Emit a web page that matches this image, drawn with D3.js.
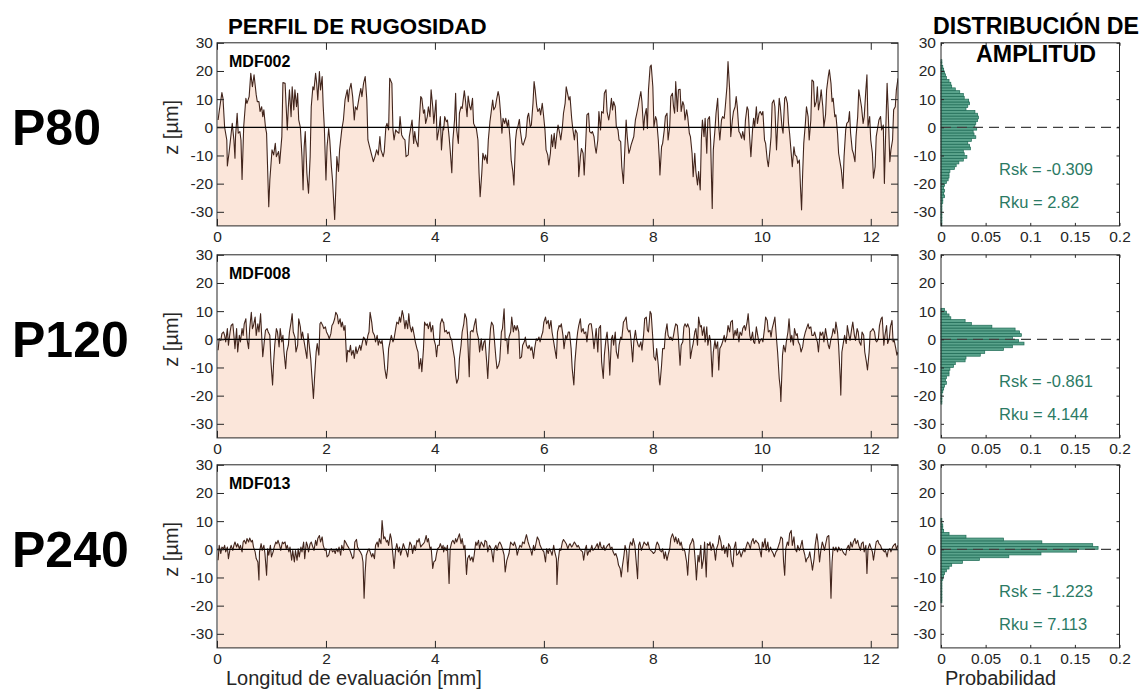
<!DOCTYPE html>
<html lang="es">
<head>
<meta charset="UTF-8">
<title>Perfil de rugosidad</title>
<script src="https://d3js.org/d3.v7.min.js"></script>
<style>
  body { margin: 0; background: #fff; }
  svg { font-family: "Liberation Sans", Arial, sans-serif; }
  .tick text { fill: #262626; font-size: 15.5px; }
  .tick line { stroke: #262626; }
</style>
</head>
<body>
<svg id="chart" width="1142" height="690"></svg>
<script>
    // labels for the three sandpaper grits
    const gritLabels = ["P80", "P120", "P240"];
    const sampleNames = ["MDF002", "MDF008", "MDF013"];
    const rskValues = ["-0.309", "-0.861", "-1.223"];
    const rkuValues = ["2.82", "4.144", "7.113"];

    const xTicks = [0, 2, 4, 6, 8, 10, 12];
    const zTicks = [-30, -20, -10, 0, 10, 20, 30];
    const probTicks = [0, 0.05, 0.1, 0.15, 0.2];

    // profiles: [x in mm, z in um]
    const profileP80 = [[0.02,2.6],[0.04,5.6],[0.09,12.3],[0.11,10.3],[0.14,0],[0.18,-4.5],[0.19,-13.7],[0.22,-9.2],[0.26,-2.1],[0.28,1.4],[0.31,-4.5],[0.33,-11],[0.34,-3.3],[0.37,5],[0.39,-2.1],[0.42,-1.5],[0.44,-4.5],[0.46,-18.5],[0.49,0.2],[0.53,10.3],[0.55,8.5],[0.59,10.9],[0.62,19.2],[0.65,14.4],[0.68,18.6],[0.72,11.5],[0.74,9.1],[0.77,9.1],[0.79,5.6],[0.82,7.3],[0.84,3.8],[0.86,6.2],[0.89,0],[0.91,-2.1],[0.95,-28.2],[0.97,-18.7],[1.01,-8],[1.04,-9.8],[1.07,-5.7],[1.09,-10.4],[1.13,-8.6],[1.15,-12.8],[1.19,-3.3],[1.21,15.9],[1.25,15.6],[1.27,7.3],[1.29,-0.9],[1.31,7.3],[1.33,13.3],[1.36,3.8],[1.38,14.4],[1.41,6.2],[1.43,13.3],[1.46,7.3],[1.48,12.1],[1.5,2.6],[1.53,0],[1.56,-10.4],[1.58,-22.2],[1.6,-6.9],[1.62,-1.5],[1.65,-16.3],[1.68,-23.4],[1.71,-10.4],[1.73,7.3],[1.76,14.4],[1.78,13.3],[1.81,19.2],[1.83,15.6],[1.85,9.7],[1.88,19.8],[1.9,13.3],[1.93,18],[1.95,7.3],[1.97,0],[2,-18.7],[2.02,-6.9],[2.05,-0.4],[2.07,-4.5],[2.1,-14],[2.12,-18.7],[2.16,-32.7],[2.18,-22.2],[2.2,-10.4],[2.23,-15.7],[2.25,-8],[2.29,-0.9],[2.32,2.6],[2.35,9.7],[2.39,13.3],[2.41,9.1],[2.43,13.3],[2.46,15.6],[2.49,10.9],[2.52,2.6],[2.54,7.3],[2.57,6.2],[2.59,8.5],[2.61,10.9],[2.64,13.8],[2.66,10.9],[2.69,15.6],[2.72,18],[2.75,9.7],[2.77,-4.5],[2.8,-6.9],[2.83,-9.2],[2.87,-12.2],[2.9,-10.4],[2.93,-8],[2.96,-9.8],[2.99,-3.3],[3.01,-8],[3.05,-10.4],[3.07,-8.6],[3.1,0.2],[3.12,1.4],[3.15,-0.9],[3.17,17.4],[3.21,15.6],[3.23,-0.9],[3.25,-4.5],[3.28,-0.9],[3.3,-1.5],[3.34,-2.1],[3.36,3.8],[3.39,-2.7],[3.42,-3.9],[3.45,-4.5],[3.47,-10.4],[3.51,-9.8],[3.53,-3.3],[3.56,0.2],[3.58,2.6],[3.61,-5.7],[3.63,-1.5],[3.65,-4.5],[3.69,-6.9],[3.71,1.4],[3.74,10.9],[3.76,10.3],[3.79,5],[3.81,6.2],[3.83,1.4],[3.86,3.8],[3.88,7.3],[3.91,3.8],[3.93,13.3],[3.96,7.3],[3.98,1.4],[4.02,9.7],[4.04,-4.5],[4.08,0.2],[4.1,3.8],[4.12,-8],[4.15,0.2],
        [4.16,-0.9],[4.18,3.8],[4.21,2],[4.23,2.6],[4.26,-3.3],[4.28,-8],[4.31,-16.1],[4.33,-4.5],[4.36,2.6],[4.38,12.1],[4.4,-0.9],[4.43,-5.7],[4.45,5],[4.48,7.3],[4.5,6.7],[4.54,13],[4.56,9.7],[4.59,3.8],[4.61,11.1],[4.64,7.3],[4.66,6.2],[4.69,10.3],[4.71,1.4],[4.74,0],[4.76,-0.4],[4.79,-4.5],[4.81,-16.3],[4.83,-24.6],[4.86,-16.3],[4.88,-9.2],[4.91,-11.6],[4.93,-9.8],[4.96,-12.8],[4.98,-4.5],[5.01,2],[5.03,5],[5.06,9.7],[5.08,6.2],[5.11,7.3],[5.13,9.7],[5.16,12.7],[5.18,10.9],[5.2,6.2],[5.23,-2.1],[5.25,3.2],[5.28,1.4],[5.3,3.2],[5.33,0.2],[5.35,2.6],[5.38,-4.5],[5.4,-11.6],[5.43,-15.7],[5.45,-20.5],[5.48,-4.5],[5.5,-0.9],[5.52,0],[5.55,2.8],[5.57,-1.5],[5.6,-5.7],[5.62,-6.3],[5.65,-4.5],[5.67,-3.3],[5.7,3.8],[5.72,5],[5.75,0.2],[5.77,0.8],[5.8,8.5],[5.82,16.2],[5.84,13.3],[5.87,7.3],[5.89,5.6],[5.92,6.7],[5.94,4.4],[5.97,8.5],[5.99,5],[6.02,-0.9],[6.04,-8],[6.07,-9.8],[6.09,-13.4],[6.12,-9.2],[6.14,-2.7],[6.16,-6.9],[6.19,-2.1],[6.21,-7.5],[6.24,-2.1],[6.26,0.8],[6.29,-2.1],[6.31,-4.5],[6.34,0.2],[6.36,5],[6.39,8.5],[6.41,14.4],[6.44,11.5],[6.46,9.7],[6.48,10.9],[6.51,3.2],[6.53,-0.4],[6.56,-4.5],[6.58,-0.9],[6.61,-2.1],[6.63,-10.4],[6.64,-17.5],[6.67,-10.4],[6.69,-7.5],[6.72,-9.2],[6.74,-16.9],[6.77,-4.5],[6.79,4.4],[6.82,5],[6.84,-1.5],[6.87,-2.1],[6.89,-1.5],[6.92,-3.3],[6.94,-6.9],[6.96,-9.2],[6.99,-4.5],[7.01,5.6],[7.04,-0.9],[7.06,5.6],[7.09,5],[7.11,12.1],[7.14,13.3],[7.16,5.6],[7.19,2.6],[7.21,5],[7.24,10.3],[7.26,6.2],[7.28,9.1],[7.31,7.3],[7.33,0.2],[7.36,-0.9],[7.38,-4.5],[7.41,-5.1],[7.43,-14],[7.46,-19.9],[7.48,-10.4],[7.51,2.6],[7.53,-3.3],[7.56,-9.2],[7.58,-8],[7.6,-6.3],[7.63,-4.5],[7.65,-3.3],[7.68,2.6],[7.7,4.4],[7.73,7.3],[7.75,9.7],[7.78,12.7],[7.8,9.1],[7.83,-0.9],[7.85,3.8],[7.88,6.7],[7.9,-0.4],[7.92,13.3],[7.95,21.5],[7.97,22.1],[8,14.4],[8.02,0.2],[8.05,3.8],[8.07,2.6],[8.1,-4.5],[8.12,-11.6],[8.13,-16.9],[8.16,-6.9],[8.18,-5.7],[8.21,-0.9],[8.23,3.8],[8.26,5],[8.28,-4.5],[8.31,0.2],[8.33,10.9],[8.36,12.1],[8.38,7.3],
        [8.4,5],[8.42,16.2],[8.45,5.6],[8.47,13.3],[8.5,13.5],[8.52,5.6],[8.55,9.1],[8.57,7.9],[8.59,2.6],[8.62,6.2],[8.64,3.8],[8.67,-2.1],[8.69,-3.3],[8.72,-9.2],[8.74,-17.5],[8.77,-9.2],[8.79,-15.7],[8.82,-20.5],[8.84,-15.7],[8.87,-22.2],[8.89,-4.5],[8.91,2.6],[8.94,-3.3],[8.96,3.2],[8.99,-9.2],[9.01,2.8],[9.04,3.8],[9.06,-4.5],[9.09,-28.8],[9.11,-8],[9.14,-0.9],[9.16,5],[9.19,10.3],[9.21,0.2],[9.23,-4.5],[9.26,2.6],[9.28,3.8],[9.31,3.2],[9.33,7.3],[9.36,14.4],[9.38,23.3],[9.41,13.3],[9.43,-3.3],[9.46,2.6],[9.48,5.6],[9.51,7.3],[9.53,10.9],[9.55,7.3],[9.58,-1.5],[9.6,-2.1],[9.63,-3.9],[9.65,-1.5],[9.68,-4.5],[9.7,2.6],[9.73,7.3],[9.75,6.2],[9.78,-4.5],[9.8,-10.4],[9.83,-0.9],[9.85,3.2],[9.87,0.2],[9.9,7.3],[9.92,1.4],[9.95,5],[9.97,5.6],[10,4.4],[10.02,5.6],[10.05,-4.5],[10.07,-5.7],[10.1,-11.6],[10.12,-14],[10.15,-8],[10.17,-3.3],[10.19,8.5],[10.22,9.7],[10.24,7.3],[10.27,-8],[10.29,0.2],[10.32,10.3],[10.34,7.3],[10.37,0.2],[10.39,-2.1],[10.42,10.3],[10.44,10.9],[10.47,8.5],[10.49,1.4],[10.51,-2.1],[10.54,-9.2],[10.56,-14],[10.59,-6.9],[10.61,-9.8],[10.64,-10.4],[10.66,-12.8],[10.69,-11.6],[10.71,-21.1],[10.73,-29.3],[10.75,-16.3],[10.77,-5.7],[10.8,1.4],[10.82,7.3],[10.85,3.8],[10.87,-4.5],[10.9,2.6],[10.92,16.8],[10.95,16.2],[10.97,7.3],[11,9.1],[11.02,14.4],[11.04,6.2],[11.07,9.7],[11.09,13.3],[11.12,7.3],[11.14,0.2],[11.17,4.4],[11.19,13.3],[11.22,18],[11.24,20.4],[11.27,15.6],[11.29,9.1],[11.31,10.3],[11.34,3.8],[11.36,4.4],[11.39,-2.1],[11.41,-9.2],[11.44,-12.8],[11.46,-15.1],[11.49,-21.7],[11.51,-10.4],[11.54,-0.9],[11.56,1.4],[11.59,2],[11.61,5.6],[11.63,-2.1],[11.66,-8],[11.68,-9.2],[11.71,-12.2],[11.73,-3.3],[11.76,3.8],[11.78,13.3],[11.81,9.7],[11.83,7.3],[11.86,1.4],[11.88,3.8],[11.91,13.3],[11.93,18.6],[11.95,0.2],[11.98,3.8],[12,-4.5],[12.03,-9.2],[12.05,-18.1],[12.08,-14],[12.1,-3.3],[12.13,0.2],[12.15,2.6],[12.18,3.8],[12.2,-0.9],[12.23,0.8],[12.25,-19.9],[12.27,-4.5],[12.3,15.6],[12.32,6.2],[12.35,-12.2],[12.37,-8],[12.4,-4.5],[12.42,6.2],[12.45,7.3],[12.47,13.3],[12.5,17.4]];

    const profileP120 = [[0.02,-3.9],[0.04,0.2],[0.07,-0.4],[0.09,2],[0.12,2.6],[0.14,1.4],[0.16,-0.9],[0.19,3.8],[0.21,-2.1],[0.24,2.6],[0.26,4.9],[0.29,5.5],[0.31,1.4],[0.33,-3.3],[0.36,3.8],[0.38,-4.5],[0.41,1.4],[0.43,-0.9],[0.46,3.8],[0.48,1.4],[0.5,5.5],[0.53,7.3],[0.55,0.2],[0.58,-3.3],[0.6,3.8],[0.63,9.6],[0.65,3.8],[0.67,4.9],[0.7,7.9],[0.72,1.4],[0.75,5.5],[0.77,2.6],[0.8,9.1],[0.82,1.4],[0.84,-6.2],[0.87,-0.4],[0.89,3.2],[0.92,3.8],[0.94,2.6],[0.97,1.4],[0.99,-8],[1.02,-16.2],[1.04,-8],[1.06,-2.1],[1.09,3.8],[1.11,2.6],[1.14,-2.7],[1.16,3.8],[1.19,-0.9],[1.21,1.4],[1.23,-4.5],[1.26,-10.4],[1.28,-4.5],[1.31,-2.1],[1.33,2.6],[1.36,6.1],[1.38,9.1],[1.4,2.6],[1.43,0.8],[1.45,-4.5],[1.48,-2.1],[1.5,7.3],[1.53,4.4],[1.55,0.2],[1.57,2.6],[1.6,-0.9],[1.62,-3.3],[1.65,-6.8],[1.67,2],[1.7,-3.3],[1.72,-6.8],[1.74,-12.7],[1.77,-21],[1.79,-13.9],[1.82,-4.5],[1.84,-1.5],[1.87,-5.6],[1.89,5.5],[1.91,6.1],[1.94,4.9],[1.96,3.8],[1.99,4.4],[2.01,2.6],[2.04,1.4],[2.06,0.2],[2.09,2],[2.11,4.9],[2.13,5.5],[2.16,7.3],[2.18,9.6],[2.21,8.5],[2.23,5.5],[2.26,7.3],[2.28,4.4],[2.3,6.1],[2.33,3.2],[2.35,4.9],[2.38,-8],[2.4,-3.9],[2.43,-4.5],[2.45,-2.1],[2.47,-5.6],[2.5,-3.9],[2.52,-6.8],[2.55,-2.7],[2.57,-5.1],[2.6,-3.3],[2.62,-2.1],[2.64,-3.9],[2.67,-0.9],[2.69,0.8],[2.72,0],[2.74,-2.1],[2.77,1.4],[2.79,2.6],[2.81,9.6],[2.84,6.1],[2.86,2.6],[2.89,1.4],[2.91,-0.9],[2.94,1.4],[2.96,-2.1],[2.98,-0.4],[3.01,-1.5],[3.03,-0.4],[3.06,-5.6],[3.08,-10.4],[3.11,-13.9],[3.13,-10.4],[3.15,-3.3],[3.18,-0.4],[3.2,1.4],[3.23,-0.9],[3.25,0.2],[3.28,3.8],[3.3,6.1],[3.33,5.5],[3.35,7.9],[3.37,6.1],[3.4,10.2],[3.42,8.5],[3.45,3.8],[3.47,6.7],[3.5,3.8],[3.52,9.1],[3.54,4.9],[3.57,2.6],[3.59,4.4],[3.62,1.4],[3.64,-0.9],[3.67,-3.3],[3.69,-4.5],[3.71,-10.4],[3.74,-6.8],[3.76,-11.5],[3.79,-3.3],[3.81,6.1],[3.84,4.9],[3.86,5.5],[3.88,3.8],[3.91,6.1],[3.93,2.6],[3.96,4.9],[3.98,0.2],[4.01,-2.1],[4.03,-6.2],[4.05,-2.1],[4.08,-2.1],[4.1,5.5],[4.13,7.3],[4.15,6.1],
        [4.16,6.1],[4.18,2.6],[4.21,3.2],[4.23,2],[4.26,2.6],[4.28,0.8],[4.31,-0.4],[4.33,-3.3],[4.36,-6.8],[4.38,-12.7],[4.4,-15.6],[4.43,-13.9],[4.45,-6.8],[4.48,-2.1],[4.5,2.6],[4.53,5.5],[4.55,9.1],[4.58,7.3],[4.6,1.4],[4.63,-13.3],[4.65,2.6],[4.68,3.2],[4.7,2.6],[4.72,4.9],[4.75,7.3],[4.77,2.6],[4.8,0.2],[4.82,-4.5],[4.85,0.2],[4.87,-3.9],[4.9,-0.9],[4.92,-0.4],[4.95,-8],[4.97,-13.9],[5,-2.1],[5.02,3.8],[5.04,6.1],[5.07,4.9],[5.09,0.2],[5.12,-6.8],[5.14,-10.4],[5.17,-9.2],[5.19,-7.4],[5.22,2.6],[5.24,3.8],[5.27,10.8],[5.29,-0.4],[5.32,0.2],[5.34,-5.1],[5.36,0.8],[5.39,2.6],[5.41,7.9],[5.44,2.6],[5.46,4.9],[5.49,3.2],[5.51,4.9],[5.54,2.6],[5.56,-6.8],[5.59,-6.2],[5.61,-2.1],[5.64,-0.9],[5.66,0.8],[5.68,-2.1],[5.71,-3.3],[5.73,-2.1],[5.76,-3.9],[5.78,-2.7],[5.81,-6.8],[5.83,-3.3],[5.86,0.2],[5.88,-0.4],[5.91,0.8],[5.93,-0.9],[5.96,1.4],[5.98,2.6],[6,6.1],[6.03,7.9],[6.05,5.5],[6.08,6.7],[6.1,3.8],[6.13,6.7],[6.15,2.6],[6.18,-0.9],[6.2,-3.3],[6.23,-6.8],[6.25,2.6],[6.28,4.9],[6.3,4.4],[6.32,5.5],[6.35,1.4],[6.37,-3.3],[6.4,1.4],[6.42,0.2],[6.45,2.6],[6.47,2.6],[6.5,-3.3],[6.52,-10.4],[6.55,-16.2],[6.57,-8],[6.6,-0.9],[6.62,2.6],[6.64,4.9],[6.67,7.3],[6.69,2.6],[6.72,3.8],[6.74,2],[6.77,2.6],[6.79,-0.9],[6.82,4.9],[6.84,5.5],[6.87,5.5],[6.89,2.6],[6.92,-3.3],[6.94,0.2],[6.96,3.8],[6.99,-4.5],[7.01,3.8],[7.04,4.9],[7.06,-8],[7.09,-13.9],[7.11,-5.6],[7.14,0.2],[7.16,2.6],[7.19,-4.5],[7.21,-12.7],[7.24,0.2],[7.26,1.4],[7.28,-2.1],[7.31,2.6],[7.33,-4.5],[7.36,-6.8],[7.38,-2.1],[7.41,0.8],[7.43,0.2],[7.46,6.1],[7.48,6.7],[7.51,7.9],[7.53,3.8],[7.56,2.6],[7.58,3.2],[7.6,-0.4],[7.63,-8],[7.65,-0.9],[7.68,3.2],[7.7,0.2],[7.73,-2.1],[7.75,-2.7],[7.78,-0.9],[7.8,-3.9],[7.83,1.4],[7.85,7.3],[7.88,7.9],[7.9,3.2],[7.92,2.6],[7.95,9.9],[7.97,9.1],[8,0.2],[8.02,-6.2],[8.05,-7.4],[8.07,-3.3],[8.1,-9.2],[8.12,-15.1],[8.13,-16.2],[8.16,-9.2],[8.18,-3.3],[8.21,-3.3],[8.23,2],[8.26,5.5],[8.28,1.4],[8.31,0.2],[8.33,0.8],[8.36,-0.4],[8.38,1.4],
        [8.4,3.8],[8.42,5.5],[8.45,4.9],[8.47,0.2],[8.5,-9.2],[8.52,-2.1],[8.55,-0.9],[8.57,4.4],[8.59,5.5],[8.62,4.4],[8.64,5.5],[8.67,3.8],[8.69,-6.8],[8.72,-3.3],[8.74,-1.5],[8.77,2.6],[8.79,3.8],[8.82,-2.1],[8.84,7.9],[8.87,4.4],[8.89,4.9],[8.91,1.4],[8.94,4.4],[8.96,-0.9],[8.99,4.4],[9.01,-2.1],[9.04,1.4],[9.06,-0.9],[9.09,-13.3],[9.11,-4.5],[9.14,-0.4],[9.16,-3.3],[9.19,-0.9],[9.21,-10.9],[9.23,-3.3],[9.26,-2.1],[9.28,-0.9],[9.31,1.4],[9.33,-0.9],[9.36,1.4],[9.38,4.9],[9.41,2.6],[9.43,6.1],[9.46,6.7],[9.48,0.2],[9.51,3.2],[9.53,1.4],[9.55,3.8],[9.58,-0.9],[9.6,2.6],[9.63,1.4],[9.65,3.8],[9.68,4.9],[9.7,3.2],[9.73,6.1],[9.75,9.1],[9.78,1.4],[9.8,-0.4],[9.83,2.6],[9.85,-0.9],[9.87,-1.5],[9.9,4.4],[9.92,2],[9.95,-1.5],[9.97,-0.4],[10,0.2],[10.02,-0.9],[10.05,3.8],[10.07,7.9],[10.1,6.7],[10.12,2.6],[10.15,3.2],[10.17,0.8],[10.19,3.8],[10.22,6.1],[10.24,7.9],[10.27,0.2],[10.29,-4.5],[10.32,-13.9],[10.34,-17.4],[10.35,-22.1],[10.38,-5.6],[10.4,-2.1],[10.43,-4.5],[10.45,-0.9],[10.48,2.6],[10.5,7.3],[10.53,-0.9],[10.55,1.4],[10.58,-2.1],[10.6,3.8],[10.63,1.4],[10.65,2],[10.67,-0.9],[10.7,-2.1],[10.72,-4.5],[10.75,-2.7],[10.77,0.2],[10.8,2.6],[10.82,3.8],[10.85,5.5],[10.87,3.8],[10.9,4.4],[10.92,1.4],[10.95,1.4],[10.97,2.6],[11,0.2],[11.02,-0.9],[11.04,-4.5],[11.07,2.6],[11.09,1.4],[11.12,2.6],[11.14,-0.9],[11.17,3.8],[11.19,1.4],[11.22,-2.1],[11.24,-3.3],[11.27,0.2],[11.29,1.4],[11.31,3.8],[11.34,2],[11.36,6.1],[11.39,2.6],[11.41,-2.1],[11.44,-13.9],[11.45,-19.8],[11.47,-4.5],[11.5,-0.9],[11.52,1.4],[11.55,-1.5],[11.57,4.9],[11.6,1.4],[11.62,-0.4],[11.65,3.8],[11.67,6.1],[11.7,1.4],[11.72,-0.4],[11.75,3.8],[11.77,2.6],[11.79,-0.9],[11.82,-2.1],[11.84,2.6],[11.87,1.4],[11.89,-4.5],[11.92,-8],[11.94,-10.9],[11.97,-4.5],[11.99,2.6],[12.02,3.2],[12.04,3.8],[12.07,2.6],[12.09,-0.4],[12.11,-0.9],[12.14,0.2],[12.16,4.9],[12.19,7.3],[12.21,7.9],[12.24,-2.1],[12.26,1.4],[12.29,4.9],[12.31,-1.5],[12.34,0.2],[12.36,4.4],[12.39,6.7],[12.41,-0.9],[12.43,-0.4],[12.46,-3.3],[12.48,-5.6],[12.5,-4.5]];

    const profileP240 = [[0.02,-3.9],[0.04,1.4],[0.07,-1.5],[0.09,0.8],[0.12,0.2],[0.14,1.4],[0.16,-0.9],[0.19,0.8],[0.21,-3.3],[0.24,0.2],[0.26,1.4],[0.29,-0.4],[0.31,1.4],[0.33,2.6],[0.36,0.8],[0.38,2],[0.41,0.2],[0.43,1.4],[0.46,-0.9],[0.48,2.6],[0.5,3.2],[0.53,2],[0.55,3.8],[0.58,2.6],[0.6,4],[0.63,2.6],[0.65,3.2],[0.67,0.8],[0.7,-0.9],[0.72,-3.3],[0.75,-4.5],[0.77,-10.9],[0.78,-0.9],[0.81,2],[0.83,-0.4],[0.86,1.4],[0.88,-1.5],[0.91,-9.2],[0.93,0.2],[0.95,-2.1],[0.98,1.4],[1,-2.7],[1.03,-0.9],[1.05,0.8],[1.08,2.6],[1.1,2],[1.12,3.2],[1.15,1.4],[1.17,-0.4],[1.2,2.6],[1.22,2],[1.25,2.6],[1.27,0.2],[1.29,1.4],[1.32,-0.9],[1.34,0.8],[1.37,-3.9],[1.39,-0.4],[1.42,-4.5],[1.44,-0.4],[1.47,-3.9],[1.49,0.2],[1.51,-2.7],[1.54,0.8],[1.56,-0.9],[1.59,2.6],[1.61,-3.3],[1.64,2.6],[1.66,1.4],[1.68,-0.9],[1.71,2],[1.73,2.6],[1.76,0.8],[1.78,-0.4],[1.81,3.2],[1.83,1.4],[1.85,3.8],[1.88,4.9],[1.9,2.6],[1.93,4.4],[1.95,1.4],[1.98,-0.4],[2,0.2],[2.02,-2.7],[2.05,-2.1],[2.07,-0.4],[2.1,0.2],[2.12,-0.9],[2.15,-0.4],[2.17,-1.5],[2.19,0.2],[2.22,-0.9],[2.24,0.8],[2.27,-2.1],[2.29,1.4],[2.32,-0.4],[2.34,3.2],[2.36,2.6],[2.39,1.4],[2.41,0.8],[2.44,-0.4],[2.46,-1.5],[2.49,-3.3],[2.51,-2.7],[2.53,2.6],[2.56,3.5],[2.58,0.8],[2.61,-0.4],[2.63,-0.9],[2.66,-2.1],[2.68,-4.5],[2.7,-17.4],[2.72,-8],[2.74,-2.1],[2.77,-0.4],[2.79,0.2],[2.81,-0.9],[2.84,-2.7],[2.86,-1.5],[2.89,-3.3],[2.91,1.4],[2.94,2.6],[2.96,0.8],[2.98,3.8],[3.01,2],[3.03,10.2],[3.06,3.8],[3.08,4.4],[3.11,2.6],[3.13,3.2],[3.15,1.4],[3.18,5.5],[3.2,3.8],[3.23,-2.1],[3.25,-6.8],[3.28,0.2],[3.3,2],[3.33,-0.9],[3.35,0.8],[3.37,-2.1],[3.4,0.2],[3.42,2],[3.45,0.2],[3.47,-0.4],[3.5,-2.7],[3.52,0.2],[3.54,2.6],[3.57,1.4],[3.59,-1.5],[3.62,1.4],[3.64,-0.4],[3.67,3.2],[3.69,2.6],[3.71,3.8],[3.74,0.8],[3.76,1.4],[3.79,2],[3.81,2.6],[3.84,4.9],[3.86,2.6],[3.88,3.8],[3.91,0.2],[3.93,0.8],[3.96,-6.8],[3.98,-4.5],[4.01,-3.9],[4.03,-1.5],[4.05,0.2],[4.08,0.8],[4.1,2],[4.13,0.2],[4.15,1.4],
        [4.16,-0.9],[4.18,0.8],[4.21,-0.4],[4.23,1.4],[4.26,-12.1],[4.28,0.2],[4.31,2.6],[4.33,3.2],[4.36,2],[4.38,3.8],[4.4,2.6],[4.43,4.4],[4.45,5.5],[4.48,2],[4.5,3.8],[4.53,0.2],[4.55,1.4],[4.58,-8.9],[4.6,-3.3],[4.63,-2.1],[4.65,-3.9],[4.68,-2.7],[4.7,-4.5],[4.72,-2.1],[4.75,2.6],[4.77,1.4],[4.8,3.2],[4.82,0.2],[4.85,2.6],[4.87,2],[4.9,0.8],[4.92,3.2],[4.95,2.6],[4.97,-0.9],[5,1.4],[5.02,0.8],[5.04,-0.4],[5.07,-4.5],[5.09,0.2],[5.12,1.4],[5.14,-0.4],[5.17,2],[5.19,2.6],[5.22,1.4],[5.24,0.2],[5.27,-2.1],[5.29,-8],[5.32,-3.9],[5.34,-2.7],[5.36,-1.5],[5.39,2.6],[5.41,2],[5.44,1.4],[5.46,2.6],[5.49,0.8],[5.51,-2.1],[5.54,0.2],[5.56,1.4],[5.59,0.8],[5.61,2.6],[5.64,2],[5.66,3.8],[5.68,5.2],[5.71,2.6],[5.73,1.4],[5.76,-0.4],[5.78,-2.1],[5.81,1.4],[5.83,-0.4],[5.86,2.6],[5.88,4.4],[5.91,3.2],[5.93,1.4],[5.96,0.2],[5.98,-0.4],[6,-0.9],[6.03,-4.5],[6.05,0.2],[6.08,-1.5],[6.1,0.2],[6.13,-0.9],[6.15,-2.1],[6.18,1.4],[6.2,-0.9],[6.23,-3.3],[6.24,-12.5],[6.26,-4.5],[6.29,0.2],[6.31,-0.4],[6.34,2.6],[6.36,3.5],[6.39,2.6],[6.41,2],[6.44,0.2],[6.46,1.4],[6.48,2],[6.51,0.8],[6.53,1.4],[6.56,2.6],[6.58,2],[6.61,0.8],[6.63,1.4],[6.66,0.2],[6.68,-0.4],[6.71,-0.9],[6.73,-3.9],[6.76,0.2],[6.78,1.4],[6.8,-2.1],[6.83,-0.4],[6.85,-0.9],[6.88,1.4],[6.9,-0.4],[6.93,0.2],[6.95,0.8],[6.98,2],[7,0.2],[7.03,2.6],[7.05,0.8],[7.08,0.2],[7.1,1.4],[7.12,-0.4],[7.15,0.8],[7.17,1.4],[7.2,2],[7.22,0.2],[7.25,0.8],[7.27,-0.9],[7.3,-2.1],[7.32,-1.5],[7.35,-3.3],[7.37,-5.6],[7.4,-6.8],[7.42,-9.8],[7.44,-6.2],[7.47,-2.1],[7.49,1.4],[7.52,-0.9],[7.54,-8],[7.57,0.8],[7.59,2.6],[7.62,1.4],[7.64,3.8],[7.67,1.4],[7.69,-3.3],[7.72,-10.4],[7.74,1.4],[7.76,2.6],[7.79,-0.4],[7.81,0.8],[7.84,2.6],[7.86,2],[7.89,1.4],[7.91,2.6],[7.94,0],[7.96,-0.4],[7.99,-0.9],[8.01,-1.5],[8.04,-0.9],[8.06,1.4],[8.08,2.6],[8.11,1.4],[8.13,-0.4],[8.16,-0.9],[8.18,0.2],[8.21,-3.3],[8.23,-0.9],[8.26,-3.9],[8.28,-2.1],[8.31,0.2],[8.33,3.8],[8.36,5.5],[8.38,4.4],
        [8.4,2.6],[8.42,4.4],[8.45,2],[8.47,3.8],[8.5,1.4],[8.52,2.6],[8.55,-0.4],[8.57,0.2],[8.59,-0.9],[8.62,-4.5],[8.64,-9.2],[8.66,-2.1],[8.68,1.4],[8.71,2.6],[8.73,3.8],[8.75,2.6],[8.78,-4.5],[8.8,-10.9],[8.83,-2.1],[8.85,-4.5],[8.88,1.4],[8.9,-6.8],[8.93,-3.3],[8.95,2.6],[8.98,-9.8],[9,2],[9.03,1.4],[9.05,2.6],[9.07,-0.4],[9.1,2],[9.12,0.8],[9.15,-3.9],[9.17,0.2],[9.2,2],[9.22,4.9],[9.25,2.6],[9.27,-0.4],[9.3,1.4],[9.32,-1.5],[9.35,0.8],[9.37,-2.7],[9.39,2],[9.42,0.8],[9.44,-3.9],[9.47,-6.2],[9.49,0.2],[9.52,2.6],[9.54,-2.1],[9.57,-1.5],[9.59,-0.4],[9.62,-2.7],[9.64,-1.5],[9.67,0.2],[9.69,-0.9],[9.71,0.8],[9.74,2.6],[9.76,2],[9.79,0.2],[9.81,2.6],[9.84,3.8],[9.86,2],[9.89,3.2],[9.91,2.6],[9.94,2],[9.96,0.2],[9.99,-2.7],[10.01,2.6],[10.03,0.8],[10.06,3.8],[10.08,-0.4],[10.11,2.6],[10.13,-0.9],[10.16,0.8],[10.18,-0.4],[10.21,-1.5],[10.23,-2.7],[10.26,-0.9],[10.28,-0.4],[10.31,1.4],[10.33,2.6],[10.35,4.4],[10.38,3.8],[10.4,-4.5],[10.42,-9.2],[10.44,0.2],[10.47,2.6],[10.49,1.4],[10.51,5.5],[10.54,6.7],[10.56,1.4],[10.59,4.4],[10.61,0.2],[10.64,-0.9],[10.66,1.4],[10.69,-0.4],[10.71,0.8],[10.74,3.2],[10.76,0.2],[10.79,-2.1],[10.81,-4.5],[10.83,-3.3],[10.86,-2.7],[10.88,-0.9],[10.91,-4.5],[10.93,-7.4],[10.96,-3.3],[10.98,1.4],[11.01,5.5],[11.03,2.6],[11.06,-4.5],[11.08,-0.9],[11.11,2.6],[11.13,1.4],[11.15,-0.4],[11.18,2.6],[11.2,4.4],[11.23,4.9],[11.25,-4.5],[11.27,-17.4],[11.29,-4.5],[11.31,0.8],[11.34,-0.4],[11.36,0.8],[11.39,-0.9],[11.41,0.8],[11.44,-0.4],[11.46,0.2],[11.49,-0.9],[11.51,-1.5],[11.54,-2.1],[11.56,0.2],[11.59,1.4],[11.61,-0.4],[11.63,2.6],[11.66,0.8],[11.68,2.6],[11.71,3.8],[11.73,2],[11.76,3.2],[11.78,1.4],[11.81,-0.4],[11.83,2],[11.86,2.6],[11.88,-0.9],[11.91,1.4],[11.93,-8.6],[11.95,0.2],[11.98,2],[12,0.8],[12.03,-0.9],[12.05,-3.9],[12.08,0.2],[12.1,2.6],[12.13,3.2],[12.15,2],[12.18,1.4],[12.2,0.2],[12.23,-0.4],[12.25,-0.9],[12.27,-0.4],[12.3,-2.7],[12.32,-0.4],[12.35,0.2],[12.37,-0.9],[12.4,0.8],[12.42,1.4],[12.45,2],[12.47,0.2],[12.5,1.4]];

    // amplitude histograms: probability per 1 um bin, first bin's lower edge given
    const histP80Start = -35;
    const histP80 = [0.001,0.001,0.001,0.001,0.001,0.001,0.001,0.001,0.002,0.002,0.004,0.003,0.004,0.003,0.004,0.006,0.008,0.009,0.009,0.010,0.015,0.017,0.020,0.025,0.029,0.026,0.025,0.033,0.032,0.030,0.034,0.039,0.037,0.036,0.040,0.038,0.039,0.041,0.042,0.041,0.038,0.028,0.030,0.032,0.031,0.026,0.025,0.021,0.016,0.012,0.011,0.009,0.006,0.005,0.004,0.003,0.002,0.001,0.001];
    const histP120Start = -23;
    const histP120 = [0.001,0.001,0.001,0.001,0.002,0.003,0.004,0.006,0.005,0.006,0.009,0.009,0.010,0.014,0.016,0.027,0.028,0.044,0.049,0.070,0.080,0.093,0.087,0.080,0.090,0.088,0.083,0.057,0.034,0.027,0.011,0.009,0.006,0.004];
    const histP240Start = -19;
    const histP240 = [0.001,0.001,0.001,0.001,0.001,0.001,0.001,0.001,0.002,0.003,0.004,0.006,0.009,0.012,0.024,0.043,0.076,0.112,0.152,0.176,0.170,0.113,0.070,0.028,0.009,0.003,0.002,0.002,0.001,0.001];

    const profiles = [profileP80, profileP120, profileP240];
    const hists = [histP80, histP120, histP240];
    const histStarts = [histP80Start, histP120Start, histP240Start];

    const svg = d3.select("#chart");
    const ink = "#262626";
    const teal = "#2b7a64";

    // layout
    const rowTop = [42.8, 254.8, 464.8];
    const plotH = 183.1;
    const x = d3.scaleLinear().domain([0, 12.5]).range([217, 898]);
    const px = d3.scaleLinear().domain([0, 0.2]).range([941, 1119.5]);

    svg.append("text").attr("x", 228).attr("y", 34)
        .attr("font-size", 22.3).attr("font-weight", "bold").attr("fill", "#000")
        .text("PERFIL DE RUGOSIDAD");
    svg.append("text").attr("x", 1036).attr("y", 34).attr("text-anchor", "middle")
        .attr("font-size", 23.2).attr("font-weight", "bold").attr("fill", "#000")
        .text("DISTRIBUCIÓN DE");
    svg.append("text").attr("x", 1036).attr("y", 62).attr("text-anchor", "middle")
        .attr("font-size", 23.2).attr("font-weight", "bold").attr("fill", "#000")
        .text("AMPLITUD");

    gritLabels.forEach((label, i) => {
        const top = rowTop[i];
        const y = d3.scaleLinear().domain([-35, 30]).range([top + plotH, top]);
        const g = svg.append("g");

        g.append("text").attr("x", 12).attr("y", y(0) + 18)
            .attr("font-size", 50).attr("font-weight", "bold").attr("fill", "#000")
            .text(label);

        // --- roughness profile ---
        const clipId = "clip" + i;
        g.append("clipPath").attr("id", clipId)
            .append("rect").attr("x", x(0)).attr("y", top)
            .attr("width", x(12.5) - x(0)).attr("height", plotH);

        const area = d3.area().x(d => x(d[0])).y0(y(-35)).y1(d => y(d[1]));
        const line = d3.line().x(d => x(d[0])).y(d => y(d[1]));
        const pg = g.append("g").attr("clip-path", `url(#${clipId})`);
        pg.append("path").datum(profiles[i]).attr("d", area)
            .attr("fill", "#fbe6da").attr("stroke", "none");
        pg.append("path").datum(profiles[i]).attr("d", line)
            .attr("fill", "none").attr("stroke", "#42251c").attr("stroke-width", 1.1)
            .attr("stroke-linejoin", "round");
        pg.append("line").attr("x1", x(0)).attr("x2", x(12.5))
            .attr("y1", y(0)).attr("y2", y(0)).attr("stroke", "#000").attr("stroke-width", 1.2);

        g.append("g").attr("transform", `translate(0,${y(-35)})`)
            .call(d3.axisBottom(x).tickValues(xTicks).tickSize(-7).tickPadding(5).tickFormat(d => String(d)))
            .call(a => a.select(".domain").remove());
        g.append("g").attr("transform", `translate(0,${top})`)
            .call(d3.axisTop(x).tickValues(xTicks).tickSize(-7).tickFormat(""))
            .call(a => a.select(".domain").remove());
        g.append("g").attr("transform", `translate(${x(0)},0)`)
            .call(d3.axisLeft(y).tickValues(zTicks).tickSize(-7).tickPadding(4).tickFormat(d => String(d)))
            .call(a => a.select(".domain").remove());
        g.append("g").attr("transform", `translate(${x(12.5)},0)`)
            .call(d3.axisRight(y).tickValues(zTicks).tickSize(-7).tickFormat(""))
            .call(a => a.select(".domain").remove());
        g.append("rect").attr("x", x(0)).attr("y", top)
            .attr("width", x(12.5) - x(0)).attr("height", plotH)
            .attr("fill", "none").attr("stroke", ink).attr("stroke-width", 1);

        g.append("text").attr("x", 229).attr("y", top + 24.5)
            .attr("font-size", 16).attr("font-weight", "bold").attr("fill", "#000")
            .text(sampleNames[i]);

        g.append("text")
            .attr("transform", `translate(178,${y(0)}) rotate(-90)`)
            .attr("text-anchor", "middle").attr("font-size", 20).attr("fill", ink)
            .text("z [µm]");

        // --- amplitude distribution ---
        const bins = hists[i].map((p, k) => ({ lo: histStarts[i] + k, p: p }));
        g.selectAll(".bar" + i).data(bins).join("rect")
            .attr("class", "bar" + i)
            .attr("x", px(0))
            .attr("y", d => y(d.lo + 1))
            .attr("width", d => px(d.p) - px(0))
            .attr("height", d => y(d.lo) - y(d.lo + 1))
            .attr("fill", "#5aa38c").attr("stroke", "#1d6a54").attr("stroke-width", 0.7);

        g.append("line").attr("x1", px(0)).attr("x2", px(0.2))
            .attr("y1", y(0)).attr("y2", y(0))
            .attr("stroke", "#404040").attr("stroke-width", 1.2).attr("stroke-dasharray", "10,6");

        g.append("g").attr("transform", `translate(0,${y(-35)})`)
            .call(d3.axisBottom(px).tickValues(probTicks).tickSize(-3).tickPadding(5).tickFormat(d => String(d)))
            .call(a => a.select(".domain").remove());
        g.append("g").attr("transform", `translate(0,${top})`)
            .call(d3.axisTop(px).tickValues(probTicks).tickSize(-3).tickFormat(""))
            .call(a => a.select(".domain").remove());
        g.append("g").attr("transform", `translate(${px(0)},0)`)
            .call(d3.axisLeft(y).tickValues(zTicks).tickSize(-3).tickPadding(5).tickFormat(d => String(d)))
            .call(a => a.select(".domain").remove());
        g.append("g").attr("transform", `translate(${px(0.2)},0)`)
            .call(d3.axisRight(y).tickValues(zTicks).tickSize(-3).tickFormat(""))
            .call(a => a.select(".domain").remove());
        g.append("rect").attr("x", px(0)).attr("y", top)
            .attr("width", px(0.2) - px(0)).attr("height", plotH)
            .attr("fill", "none").attr("stroke", ink).attr("stroke-width", 1);

        g.append("text").attr("x", 999).attr("y", y(-16.8))
            .attr("font-size", 16.5).attr("fill", teal)
            .text("Rsk = " + rskValues[i]);
        g.append("text").attr("x", 999).attr("y", y(-28.5))
            .attr("font-size", 16.5).attr("fill", teal)
            .text("Rku = " + rkuValues[i]);
    });

    svg.append("text").attr("x", 226).attr("y", 685)
        .attr("font-size", 20).attr("fill", ink)
        .text("Longitud de evaluación [mm]");
    svg.append("text").attr("x", 945).attr("y", 685)
        .attr("font-size", 20).attr("fill", ink)
        .text("Probabilidad");
</script>
</body>
</html>
